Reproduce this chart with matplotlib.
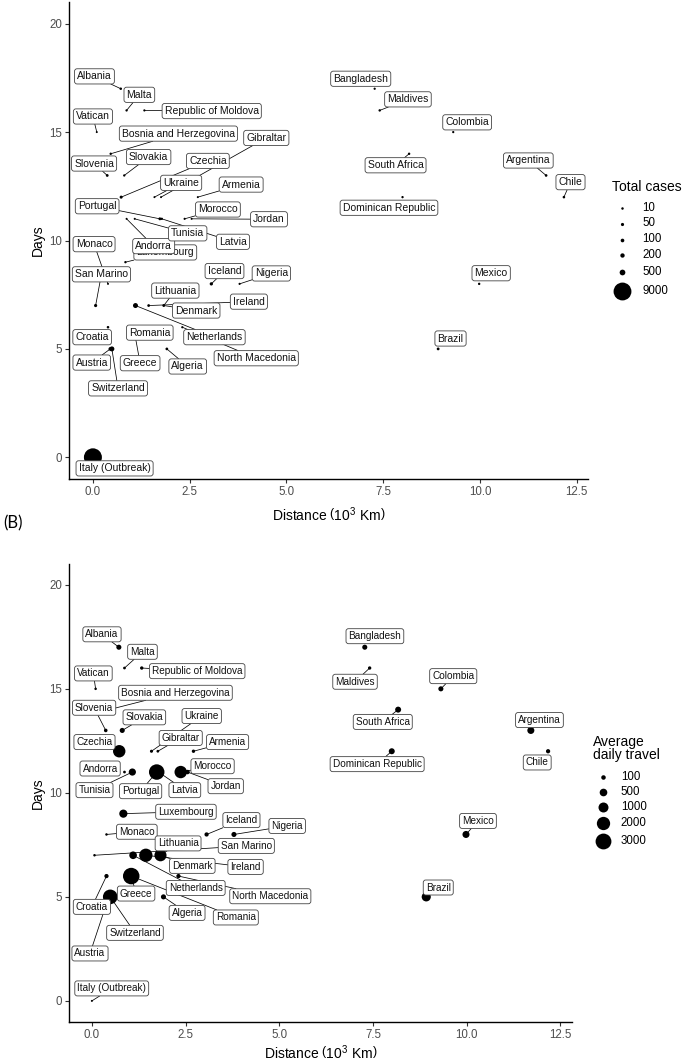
import numpy as np
import matplotlib
matplotlib.use("Agg")
import matplotlib.pyplot as plt

plt.rcParams["font.family"] = ["Liberation Sans", "DejaVu Sans"]
plt.rcParams["mathtext.fontset"] = "custom"
plt.rcParams["mathtext.rm"] = "Liberation Sans"
plt.rcParams["mathtext.it"] = "Liberation Sans:italic"

# === DATA ====================================================================
countries = ["Albania", "Malta", "Republic of Moldova", "Vatican",
             "Bosnia and Herzegovina", "Slovenia", "Slovakia", "Czechia",
             "Gibraltar", "Ukraine", "Armenia", "Portugal", "Morocco", "Jordan",
             "Latvia", "Luxembourg", "Andorra", "Tunisia", "Monaco", "San Marino",
             "Iceland", "Nigeria", "Lithuania", "Ireland", "Denmark", "Croatia",
             "Netherlands", "Romania", "North Macedonia", "Austria", "Greece",
             "Algeria", "Switzerland", "Italy (Outbreak)", "Bangladesh", "Maldives",
             "Colombia", "South Africa", "Dominican Republic", "Argentina", "Chile",
             "Mexico", "Brazil"]
distance_km = [0.72, 0.87, 1.33, 0.10, 0.46, 0.37, 0.81, 0.73, 1.76, 1.59, 2.71,
               1.73, 2.37, 2.55, 1.78, 0.84, 0.87, 1.08, 0.39, 0.07, 3.06, 3.79,
               1.83, 1.44, 1.83, 0.39, 1.10, 1.05, 2.31, 0.45, 1.05, 1.91, 0.49,
               0.00, 7.28, 7.41, 9.31, 8.17, 8.00, 11.71, 12.17, 9.98, 8.92]
days = [17, 16, 16, 15, 14, 13, 13, 12, 12, 12, 12, 11, 11, 11, 11, 9, 11, 11,
        8, 7, 8, 8, 7, 7, 7, 6, 7, 6, 6, 5, 6, 5, 5, 0, 17, 16, 15, 14, 12, 13,
        12, 8, 5]
total_cases = [10, 5, 3, 1, 7, 23, 5, 40, 1, 1, 1, 30, 2, 1, 6, 5, 1, 1, 1, 50,
               60, 2, 1, 21, 20, 12, 320, 15, 3, 100, 80, 20, 320, 9172, 3, 8,
               3, 7, 5, 17, 13, 7, 25]
avg_travel = [150, 10, 30, 5, 20, 40, 150, 1700, 10, 20, 30, 2850, 1700, 100,
              30, 600, 10, 420, 5, 5, 80, 150, 30, 2000, 1600, 80, 500, 2500,
              80, 1000, 3300, 150, 2500, 1, 150, 30, 150, 250, 250, 400, 80,
              400, 800]

cases_breaks = [10, 50, 100, 200, 500, 9000]
travel_breaks = [100, 500, 1000, 2000, 3000]

# label placement (data coords), mimicking the ggrepel layout of each panel
LAB_TOP = {
    "Albania": (0.04, 17.57), "Malta": (1.20, 16.72), "Republic of Moldova": (3.07, 15.97),
    "Vatican": (0.0, 15.72), "Bosnia and Herzegovina": (2.21, 14.93), "Gibraltar": (4.48, 14.73),
    "Slovenia": (0.03, 13.55), "Slovakia": (1.44, 13.85), "Czechia": (2.97, 13.67),
    "Ukraine": (2.28, 12.66), "Armenia": (3.83, 12.58), "Portugal": (0.11, 11.58),
    "Morocco": (3.23, 11.43), "Jordan": (4.55, 10.98), "Tunisia": (2.45, 10.33),
    "Latvia": (3.62, 9.94), "Monaco": (0.03, 9.83), "Andorra": (1.57, 9.74),
    "Luxembourg": (1.87, 9.45), "San Marino": (0.22, 8.44), "Iceland": (3.40, 8.59),
    "Nigeria": (4.61, 8.48), "Lithuania": (2.13, 7.69), "Ireland": (4.03, 7.18),
    "Denmark": (2.67, 6.77), "Croatia": (-0.02, 5.54), "Romania": (1.47, 5.75),
    "Netherlands": (3.14, 5.54), "North Macedonia": (4.22, 4.57), "Austria": (-0.03, 4.37),
    "Greece": (1.22, 4.34), "Algeria": (2.45, 4.19), "Switzerland": (0.65, 3.18),
    "Italy (Outbreak)": (0.56, -0.51), "Bangladesh": (6.92, 17.46), "Maldives": (8.14, 16.51),
    "Colombia": (9.67, 15.45), "South Africa": (7.82, 13.47), "Argentina": (11.25, 13.69),
    "Chile": (12.34, 12.69), "Dominican Republic": (7.65, 11.51), "Mexico": (10.29, 8.49),
    "Brazil": (9.24, 5.48),
}
LAB_BOT = {
    "Albania": (0.27, 17.62), "Malta": (1.35, 16.78), "Republic of Moldova": (2.81, 15.85),
    "Vatican": (0.04, 15.74), "Bosnia and Herzegovina": (2.23, 14.81), "Slovenia": (0.06, 14.09),
    "Slovakia": (1.40, 13.63), "Ukraine": (2.93, 13.69), "Gibraltar": (2.37, 12.64),
    "Armenia": (3.62, 12.44), "Czechia": (0.07, 12.44), "Andorra": (0.22, 11.17),
    "Morocco": (3.22, 11.28), "Tunisia": (0.07, 10.13), "Portugal": (1.30, 10.08),
    "Latvia": (2.48, 10.13), "Jordan": (3.57, 10.32), "Luxembourg": (2.51, 9.09),
    "Iceland": (3.99, 8.69), "Nigeria": (5.21, 8.41), "Monaco": (1.20, 8.13),
    "Lithuania": (2.30, 7.57), "San Marino": (4.12, 7.45), "Denmark": (2.68, 6.49),
    "Ireland": (4.10, 6.44), "Netherlands": (2.77, 5.43), "Greece": (1.18, 5.16),
    "North Macedonia": (4.76, 5.03), "Croatia": (0.0, 4.52), "Algeria": (2.54, 4.23),
    "Romania": (3.84, 4.01), "Switzerland": (1.15, 3.27), "Austria": (-0.05, 2.28),
    "Italy (Outbreak)": (0.53, 0.60), "Bangladesh": (7.55, 17.53), "Maldives": (7.02, 15.34),
    "Colombia": (9.64, 15.61), "South Africa": (7.76, 13.41), "Argentina": (11.94, 13.50),
    "Dominican Republic": (7.61, 11.38), "Chile": (11.88, 11.46), "Mexico": (10.30, 8.65),
    "Brazil": (9.24, 5.45),
}

# === LAYOUT ==================================================================
W, H, DPI = 688, 1062, 100
PT = 72.0 / DPI          # points per pixel


def diam_px(v, vmin, vmax, dmin, dmax):
    t = np.clip((np.asarray(v, float) - vmin) / (vmax - vmin), 0, 1)
    return dmin + (dmax - dmin) * np.sqrt(t)


def style_axes(ax):
    ax.set_xlim(-0.61, 12.8)
    ax.set_ylim(-1, 21)
    ax.set_xticks([0, 2.5, 5, 7.5, 10, 12.5])
    ax.set_xticklabels(["0.0", "2.5", "5.0", "7.5", "10.0", "12.5"])
    ax.set_yticks([0, 5, 10, 15, 20])
    for s in ("top", "right"):
        ax.spines[s].set_visible(False)
    for s in ("left", "bottom"):
        ax.spines[s].set_linewidth(1.0)
        ax.spines[s].set_color("black")
    ax.tick_params(length=3, width=0.8, color="#333333", labelcolor="#4D4D4D",
                   labelsize=8.3, pad=2)
    ax.set_xlabel(r"Distance $\left(10^{3}\ \mathrm{Km}\right)$", fontsize=10)
    ax.set_ylabel("Days", fontsize=10)


def panel(ax, sizes, labels_xy, fs):
    ax.scatter(distance_km, days, s=(sizes * PT) ** 2, c="black", lw=0, zorder=3)
    items = []
    for name, x, y in zip(countries, distance_km, days):
        lx, ly = labels_xy[name]
        t = ax.text(lx, ly, name, fontsize=fs, ha="center", va="center", zorder=5,
                    color="#111111",
                    bbox=dict(boxstyle="round,pad=0.25,rounding_size=0.25",
                              fc="white", ec="#444444", lw=0.6))
        items.append((t, x, y))
    return items


def draw_segments(fig, ax, items):
    # ggrepel-like segment: from the point to where it meets the label box
    r = fig.canvas.get_renderer()
    inv = ax.transData.inverted()
    for t, x, y in items:
        bb = t.get_bbox_patch().get_window_extent(r)
        px, py = ax.transData.transform((x, y))
        cx, cy = (bb.x0 + bb.x1) / 2, (bb.y0 + bb.y1) / 2
        if bb.x0 <= px <= bb.x1 and bb.y0 <= py <= bb.y1:
            continue
        dx, dy = cx - px, cy - py
        tx = ((bb.x0 - px) / dx if dx > 0 else (bb.x1 - px) / dx) if dx != 0 else -np.inf
        ty = ((bb.y0 - py) / dy if dy > 0 else (bb.y1 - py) / dy) if dy != 0 else -np.inf
        te = max(tx, ty)
        ex, ey = px + te * dx, py + te * dy
        if np.hypot(ex - px, ey - py) < 6:
            continue
        (dx0, dy0), (dx1, dy1) = inv.transform([(px, py), (ex, ey)])
        ax.plot([dx0, dx1], [dy0, dy1], color="black", lw=0.55, zorder=2,
                solid_capstyle="butt")


fig = plt.figure(figsize=(W / DPI, H / DPI), dpi=DPI)
fig.patch.set_facecolor("white")

ax1 = fig.add_axes([69.3 / W, 1 - 479 / H, 519 / W, 477 / H])
ax2 = fig.add_axes([69.0 / W, 1 - 1021.7 / H, 502.7 / W, 457.7 / H])
style_axes(ax1)
style_axes(ax2)
ax1.xaxis.set_label_coords(0.5, -0.0545)
ax2.xaxis.set_label_coords(0.5, -0.047)
ax1.yaxis.set_label_coords(-0.047, 0.5)
ax2.yaxis.set_label_coords(-0.048, 0.5)

c_min, c_max = min(total_cases), max(total_cases)
t_min, t_max = min(avg_travel), max(avg_travel)
size_top = diam_px(total_cases, c_min, c_max, 2.0, 18.0)
size_bot = diam_px(avg_travel, t_min, t_max, 2.0, 16.5)

items1 = panel(ax1, size_top, LAB_TOP, 7.5)
items2 = panel(ax2, size_bot, LAB_BOT, 7.2)

fig.canvas.draw()
draw_segments(fig, ax1, items1)
draw_segments(fig, ax2, items2)

# legends + panel tag, drawn on a pixel-coordinate overlay
lay = fig.add_axes([0, 0, 1, 1], zorder=10)
lay.set_xlim(0, W)
lay.set_ylim(H, 0)
lay.axis("off")

lay.text(611.7, 187, "Total cases", fontsize=10, va="center", ha="left")
leg_top_y = [208.3, 223.5, 239.5, 255, 271.7, 291]
for b, yy in zip(cases_breaks, leg_top_y):
    d = diam_px(b, c_min, c_max, 2.0, 18.0)
    lay.scatter([622.3], [yy], s=(d * PT) ** 2, c="black", lw=0)
    lay.text(642.3, yy, str(b), fontsize=8.3, va="center", ha="left")

lay.text(593.3, 748.5, "Average\ndaily travel", fontsize=10, va="center",
         ha="left", linespacing=0.95)
leg_bot_y = [776.7, 792.3, 807.3, 822.7, 841]
for b, yy in zip(travel_breaks, leg_bot_y):
    d = diam_px(b, t_min, t_max, 2.0, 16.5)
    lay.scatter([602.7], [yy], s=(d * PT) ** 2, c="black", lw=0)
    lay.text(620.7, yy, str(b), fontsize=8.3, va="center", ha="left")

lay.text(3, 523, "(B)", fontsize=12, va="center", ha="left",
         family=["Lato", "DejaVu Sans"])

fig.savefig("out.png", dpi=DPI, facecolor="white")
